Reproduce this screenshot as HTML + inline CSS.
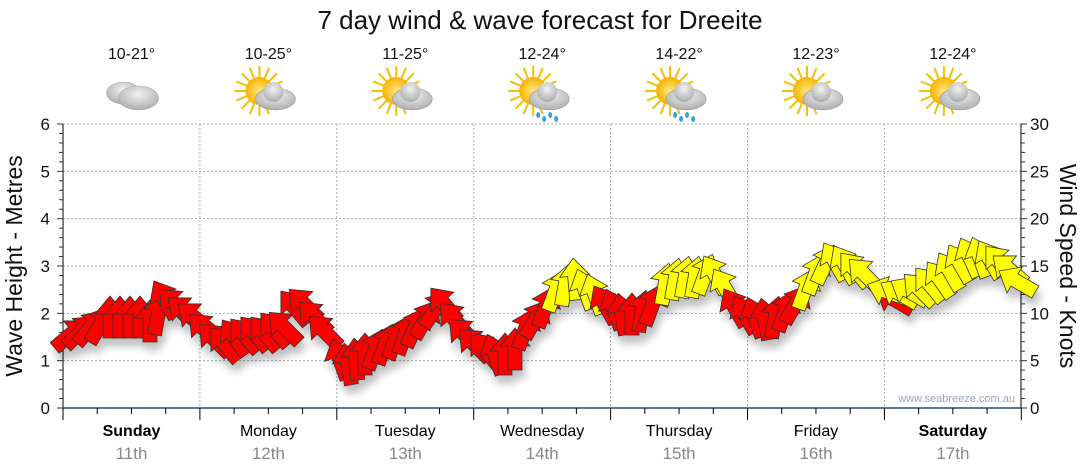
<!DOCTYPE html>
<html><head><meta charset="utf-8"><style>
body{margin:0;background:#fff;}
svg{display:block;font-family:"Liberation Sans",sans-serif;}
</style></head><body>
<svg id="s" width="1080" height="475" viewBox="0 0 1080 475" xmlns="http://www.w3.org/2000/svg">
<defs>
<filter id="sh" x="-50%" y="-50%" width="200%" height="200%"><feGaussianBlur in="SourceAlpha" stdDeviation="4"/><feOffset dx="3" dy="8"/><feComponentTransfer><feFuncA type="linear" slope="0.25"/></feComponentTransfer><feMerge><feMergeNode/><feMergeNode in="SourceGraphic"/></feMerge></filter>
<radialGradient id="cl" cx="50%" cy="35%" r="70%"><stop offset="0" stop-color="#f2f2f2"/><stop offset="1" stop-color="#a8a8a8"/></radialGradient>
<radialGradient id="sun" cx="50%" cy="50%" r="50%"><stop offset="0" stop-color="#ffe680"/><stop offset="1" stop-color="#f5b400"/></radialGradient>
</defs>
<text x="540" y="29" text-anchor="middle" font-size="26" fill="#111">7 day wind &amp; wave forecast for Dreeite</text>
<g id="g"></g>
<text transform="translate(22,266) rotate(-90)" text-anchor="middle" font-size="23" fill="#111">Wave Height - Metres</text>
<text transform="translate(1060,266) rotate(90)" text-anchor="middle" font-size="23" fill="#111">Wind Speed - Knots</text>
<text x="1015" y="402" text-anchor="end" font-size="11" fill="#9aa4b8">www.seabreeze.com.au</text>
</svg>
<script>
var g=document.getElementById('g'),h='';
var X0=63,X1=1021,Y0=408,PM=47.33;
for(var i=1;i<=6;i++){var y=Y0-i*PM;h+='<line x1="'+X0+'" x2="'+X1+'" y1="'+y+'" y2="'+y+'" stroke="#aaa" stroke-dasharray="2,2"/>';}
for(var d=1;d<7;d++){var x=X0+d*136.9;h+='<line x1="'+x+'" x2="'+x+'" y1="124" y2="408" stroke="#aaa" stroke-dasharray="2,2"/>';}
h+='<line x1="'+X0+'" x2="'+X0+'" y1="124" y2="408" stroke="#000"/>';
h+='<line x1="'+X1+'" x2="'+X1+'" y1="124" y2="408" stroke="#000"/>';
h+='<line x1="'+X0+'" x2="'+X1+'" y1="408" y2="408" stroke="#1a4f7a" stroke-width="1.5"/>';
for(var i=0;i<=30;i++){var y=Y0-i*PM/5;var L=(i%5==0)?6:4;
h+='<line x1="'+(X0-L)+'" x2="'+X0+'" y1="'+y+'" y2="'+y+'" stroke="#333"/>';
h+='<line x1="'+X1+'" x2="'+(X1+L)+'" y1="'+y+'" y2="'+y+'" stroke="#333"/>';}
for(var i=0;i<=6;i++){var y=Y0-i*PM;h+='<text x="50" y="'+(y+6)+'" text-anchor="end" font-size="17" fill="#111">'+i+'</text>';
h+='<text x="1030" y="'+(y+6)+'" font-size="17" fill="#111">'+(i*5)+'</text>';}
for(var i=0;i<=28;i++){var x=X0+i*136.9/4;var L=(i%4==0)?12:6;h+='<line x1="'+x+'" x2="'+x+'" y1="408" y2="'+(408+L)+'" stroke="#000"/>';}
var days=['Sunday','Monday','Tuesday','Wednesday','Thursday','Friday','Saturday'];
var temps=['10-21°','10-25°','11-25°','12-24°','14-22°','12-23°','12-24°'];
for(var d=0;d<7;d++){var cx=X0+d*136.9+68.5;
h+='<text x="'+cx+'" y="436" text-anchor="middle" font-size="16" fill="#000"'+((d==0||d==6)?' font-weight="bold"':'')+'>'+days[d]+'</text>';
h+='<text x="'+cx+'" y="459" text-anchor="middle" font-size="17" fill="#888">'+(11+d)+'th</text>';
h+='<text x="'+cx+'" y="59" text-anchor="middle" font-size="16" fill="#111">'+temps[d]+'</text>';
var iy=96;
if(d>0){var sx=cx-9,sy=iy-5;
for(var r=0;r<16;r++){var a=r*Math.PI/8;h+='<line x1="'+sx+'" y1="'+sy+'" x2="'+(sx+Math.cos(a)*25)+'" y2="'+(sy+Math.sin(a)*25)+'" stroke="#f5c000" stroke-width="2"/>';}
h+='<circle cx="'+sx+'" cy="'+sy+'" r="14" fill="url(#sun)"/>';
h+='<ellipse cx="'+(cx+7)+'" cy="'+(iy+3)+'" rx="20" ry="11" fill="url(#cl)" stroke="#999" stroke-width=".6"/><circle cx="'+(cx+5)+'" cy="'+(iy-4)+'" r="10" fill="url(#cl)"/>';
if(d==3||d==4){for(var k=0;k<4;k++)h+='<ellipse cx="'+(cx-4+k*6)+'" cy="'+(iy+19+(k%2)*4)+'" rx="2" ry="3" fill="#3aa0e0"/>';}
}else{
h+='<ellipse cx="'+(cx-8)+'" cy="'+(iy-3)+'" rx="17" ry="11" fill="url(#cl)" stroke="#aaa" stroke-width=".6"/><ellipse cx="'+(cx+7)+'" cy="'+(iy+2)+'" rx="20" ry="12" fill="url(#cl)" stroke="#aaa" stroke-width=".6"/>';}
}
var R='#f00',Yl='#ff0';
var A=[[70,335,50,R],[80,332,45,R],[90,328,40,R],[100,325,30,R],[110,318,0,R],[120,318,0,R],[130,318,0,R],[140,318,0,R],[150,322,0,R],[158,315,10,R],[165,300,-30,R],[175,305,-45,R],[185,312,-50,R],[195,318,-50,R],
[205,330,-45,R],[215,340,-45,R],[225,345,-40,R],[235,338,-35,R],[245,336,-40,R],[255,334,-40,R],[265,334,-40,R],[275,330,-40,R],[285,328,-45,R],[295,308,-40,R],[305,305,-45,R],[315,318,-45,R],[325,332,-45,R],
[340,360,-20,R],[348,365,-10,R],[356,360,-5,R],[365,355,0,R],[375,350,20,R],[385,345,20,R],[395,340,20,R],[405,335,20,R],[415,328,25,R],[425,320,30,R],[435,310,35,R],[445,305,-40,R],[455,320,-40,R],[465,335,-45,R],
[475,345,-45,R],[485,350,-40,R],[495,355,-20,R],[505,355,0,R],[515,350,0,R],[525,330,20,R],[535,320,30,R],[545,308,20,R],
[555,292,20,Yl],[565,286,10,Yl],[575,280,-5,Yl],[585,290,-20,Yl],[595,295,-20,Yl],
[605,305,-30,R],[614,310,-20,R],[622,315,-10,R],[632,315,0,R],[642,312,10,R],[652,306,20,R],
[665,285,10,Yl],[675,280,10,Yl],[685,278,10,Yl],[695,278,10,Yl],[705,275,20,Yl],[715,275,-30,Yl],[725,288,-30,Yl],
[735,308,-30,R],[745,315,-30,R],[755,318,-20,R],[765,320,-10,R],[775,318,10,R],[785,312,20,R],[795,305,30,R],
[805,290,20,Yl],[815,275,20,Yl],[825,265,25,Yl],[835,262,-30,Yl],[845,265,-30,Yl],[855,270,-40,Yl],[865,275,-45,Yl],
[895,300,-60,R],[888,292,-70,Yl],[900,294,-60,Yl],[910,292,-60,Yl],[920,290,-45,Yl],[930,285,-40,Yl],[940,280,-35,Yl],[950,272,-30,Yl],[960,264,-30,Yl],[970,258,-25,Yl],[980,258,-20,Yl],[990,260,-30,Yl],[1000,263,-40,Yl],[1010,270,-50,Yl],[1018,282,-60,Yl]];
var p='0,-22 15,-4 7,-4 7,20 -7,20 -7,-4 -15,-4';
h+='<g filter="url(#sh)">';
A.forEach(function(a){h+='<polygon points="'+p+'" transform="translate('+a[0]+','+a[1]+') rotate('+a[2]+')" fill="'+a[3]+'" stroke="#333" stroke-width=".8"/>';});
h+='</g>';
g.innerHTML=h;
</script>
</body></html>
